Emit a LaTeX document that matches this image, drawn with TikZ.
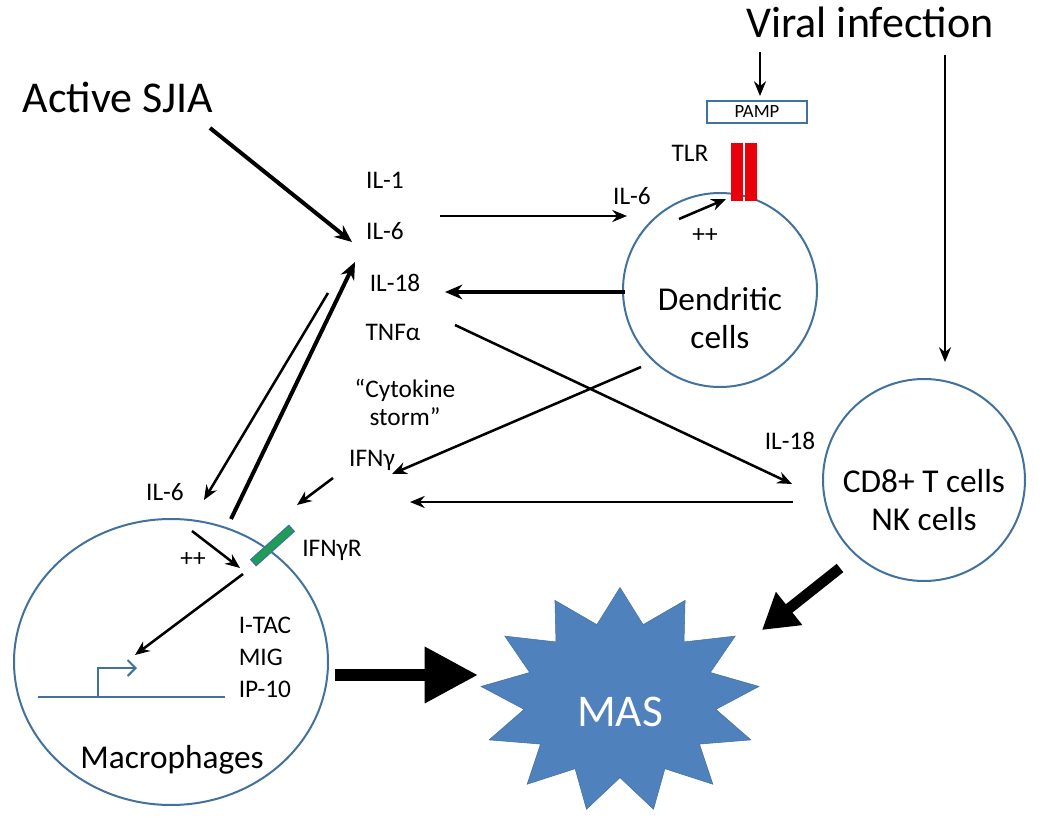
\documentclass[tikz,border=0pt]{standalone}
\usepackage{fontspec}
\setmainfont{Carlito}
\usetikzlibrary{shapes.geometric,arrows.meta}
\definecolor{cb}{HTML}{41719C}
\definecolor{masb}{HTML}{4F81BD}
\definecolor{trg}{HTML}{E8000B}
\definecolor{grn}{HTML}{1E9E55}
\tikzset{
 lbl/.style={font=\fontsize{19}{21}\selectfont},
 big/.style={font=\fontsize{33}{36}\selectfont},
 mid/.style={font=\fontsize{25}{28}\selectfont},
 cell/.style={draw=cb,line width=1.5pt},
 ar/.style={-{Stealth[length=11pt,width=9pt]},line width=1.9pt},
 tar/.style={-{Stealth[length=13pt,width=11pt]},line width=3pt},
}
\begin{document}
\begin{tikzpicture}[x=0.75pt,y=-0.75pt]
\useasboundingbox (0,0) rectangle (1050,831);
% cells
\node[cell,ellipse,minimum width=314*0.75pt,minimum height=286*0.75pt] (mac) at (171,662) {};
\node[cell,circle,minimum size=194*0.75pt] (dc) at (720,290) {};
\node[cell,circle,minimum size=202*0.75pt] (cd8) at (924,480) {};
\node[star,star points=13,star point ratio=1.45,fill=masb,draw=cb,minimum size=250*0.75pt,inner sep=0pt,xscale=1.12,yscale=0.9] (mas) at (620,700) {};
\node[text=white,font=\fontsize{34}{36}\selectfont] (mast) at (620,712) {MAS};
% texts
\node[big] (sjia) at (118,97) {Active SJIA};
\node[big] (vir) at (870,22) {Viral infection};
\node[lbl] (il1) at (385,180) {IL-1};
\node[lbl] (il6) at (385,231) {IL-6};
\node[lbl] (il18) at (395,283) {IL-18};
\node[lbl] (tnf) at (393,332) {TNFα};
\node[lbl,align=center] (storm) at (405,402) {“Cytokine\\storm”};
\node[lbl] (il6d) at (632,196) {IL-6};
\node[lbl] (tlr) at (690,153) {TLR};
\node[draw=cb,line width=1.5pt,minimum width=75pt,minimum height=16pt,inner sep=0pt,font=\fontsize{14}{15}\selectfont] (pamp) at (757,112) {PAMP};
\fill[trg] (731,143) rectangle (743,201);
\fill[trg] (745,143) rectangle (757,201);
\node[lbl] (ppd) at (705,236) {++};
\node[mid,align=center] (dct) at (720,318) {Dendritic\\cells};
\node[mid,align=center] (cdt) at (924,500) {CD8+ T cells\\NK cells};
\node[lbl] (il18c) at (790,441) {IL-18};
\node[lbl] (ifng) at (372,460) {IFNγ};
\node[lbl] (il6m) at (165,492) {IL-6};
\node[lbl] (ifngr) at (332,550) {IFNγR};
\node[lbl] (ppm) at (193,560) {++};
\node[lbl,align=left] (chem) at (265,657) {I-TAC\\[3pt]MIG\\[3pt]IP-10};
\node[mid] (mact) at (172,760) {Macrophages};
% receptor
\draw[line width=7pt,draw=cb] (253,563) -- (292,528);
\draw[line width=5pt,draw=grn] (254,562) -- (291,529);
% promoter
\draw[cb,line width=1.5pt] (38,697) -- (225,697);
\draw[cb,line width=1.5pt,-{Straight Barb[length=6pt]}] (98,697) -- (98,668) -- (137,668);
% coordinates
\coordinate (a1) at (210,128); \coordinate (a2) at (352,242);
\coordinate (v1) at (760,52); \coordinate (v2) at (760,96);
\coordinate (v3) at (945,55); \coordinate (v4) at (945,362);
% arrows
\draw[tar] (a1) -- (a2);
\draw[ar] (v1) -- (v2);
\draw[ar] (v3) -- (v4);
\draw[ar] (440,216) -- (627,216);
\draw[ar] (679,219) -- (726,199);
\draw[tar] (625,292) -- (445,292);
\draw[ar] (641,367) -- (392,474);
\draw[ar] (455,325) -- (792,484);
\draw[ar] (793,502) -- (410,502);
\draw[ar] (333,478) -- (297,505);
\draw[ar] (328,293) -- (204,500);
\draw[tar] (231,519) -- (355,262);
\draw[ar] (192,531) -- (240,568);
\draw[ar] (243,574) -- (135,655);
\draw[-{Triangle[length=40pt,width=40pt]},line width=9pt] (335,675) -- (478,675);
\draw[-{Triangle[length=26pt,width=30pt]},line width=8pt] (840,568) -- (762,630);
\end{tikzpicture}
\end{document}
